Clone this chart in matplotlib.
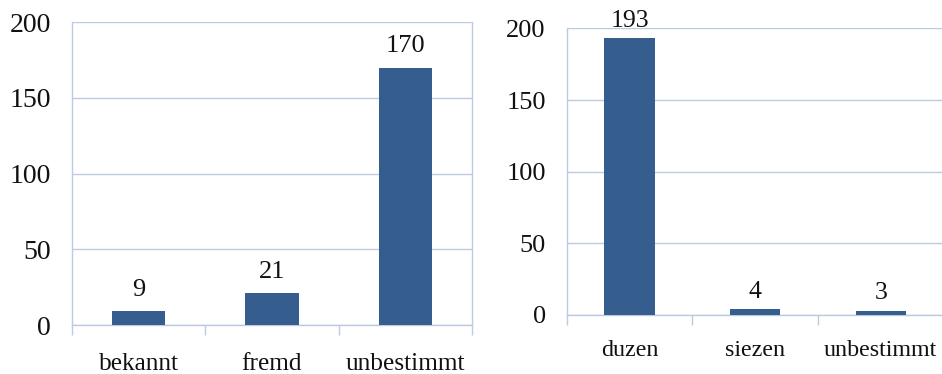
import matplotlib
matplotlib.use('Agg')
import numpy as np
import matplotlib.pyplot as plt

# Daten
kat_links = ["bekannt", "fremd", "unbestimmt"]
werte_links = [9, 21, 170]
kat_rechts = ["duzen", "siezen", "unbestimmt"]
werte_rechts = [193, 4, 3]
yticks = [0, 50, 100, 150, 200]

balken = "#355e8f"
gitter = "#bccbe0"

plt.rcParams['font.family'] = ['Liberation Serif', 'DejaVu Serif']


def panel(ax, kategorien, werte, fs_y, fs_x, fs_w, off, pad_x):
    x = np.arange(len(kategorien))
    ax.bar(x, werte, width=0.4, color=balken, zorder=3)
    for xi, v in zip(x, werte):
        ax.annotate(str(v), (xi, v), xytext=(0, off), textcoords="offset points",
                    ha="center", va="bottom", fontsize=fs_w, color="#111111",
                    annotation_clip=False)
    ax.set_xlim(-0.5, len(kategorien) - 0.5)
    ax.set_ylim(0, 200)
    ax.set_yticks(yticks)
    ax.tick_params(axis="y", length=0, labelsize=fs_y, pad=15, labelcolor="#111111")
    ax.set_xticks(x)
    ax.set_xticklabels(kategorien)
    ax.tick_params(axis="x", which="major", length=0, labelsize=fs_x, pad=pad_x,
                   labelcolor="#111111")
    ax.set_xticks(np.arange(-0.5, len(kategorien)), minor=True)
    ax.tick_params(axis="x", which="minor", length=7, width=1, color=gitter)
    ax.yaxis.grid(True, color=gitter, linewidth=1, zorder=0)
    for s in ["left", "bottom", "right"]:
        ax.spines[s].set_color(gitter)
        ax.spines[s].set_linewidth(1)
    ax.spines["top"].set_visible(False)


fig = plt.figure(figsize=(9.42, 3.74), dpi=100)

ax1 = fig.add_axes([0.0764, 0.131, 0.4246, 0.810])
panel(ax1, kat_links, werte_links, 20, 18.3, 19, 7.5, 20)

ax2 = fig.add_axes([0.6016, 0.158, 0.400, 0.766])
panel(ax2, kat_rechts, werte_rechts, 19, 17.3, 18.5, 4.5, 18)
ax2.spines["right"].set_visible(False)

fig.savefig("out.png", dpi=100)
plt.close()
